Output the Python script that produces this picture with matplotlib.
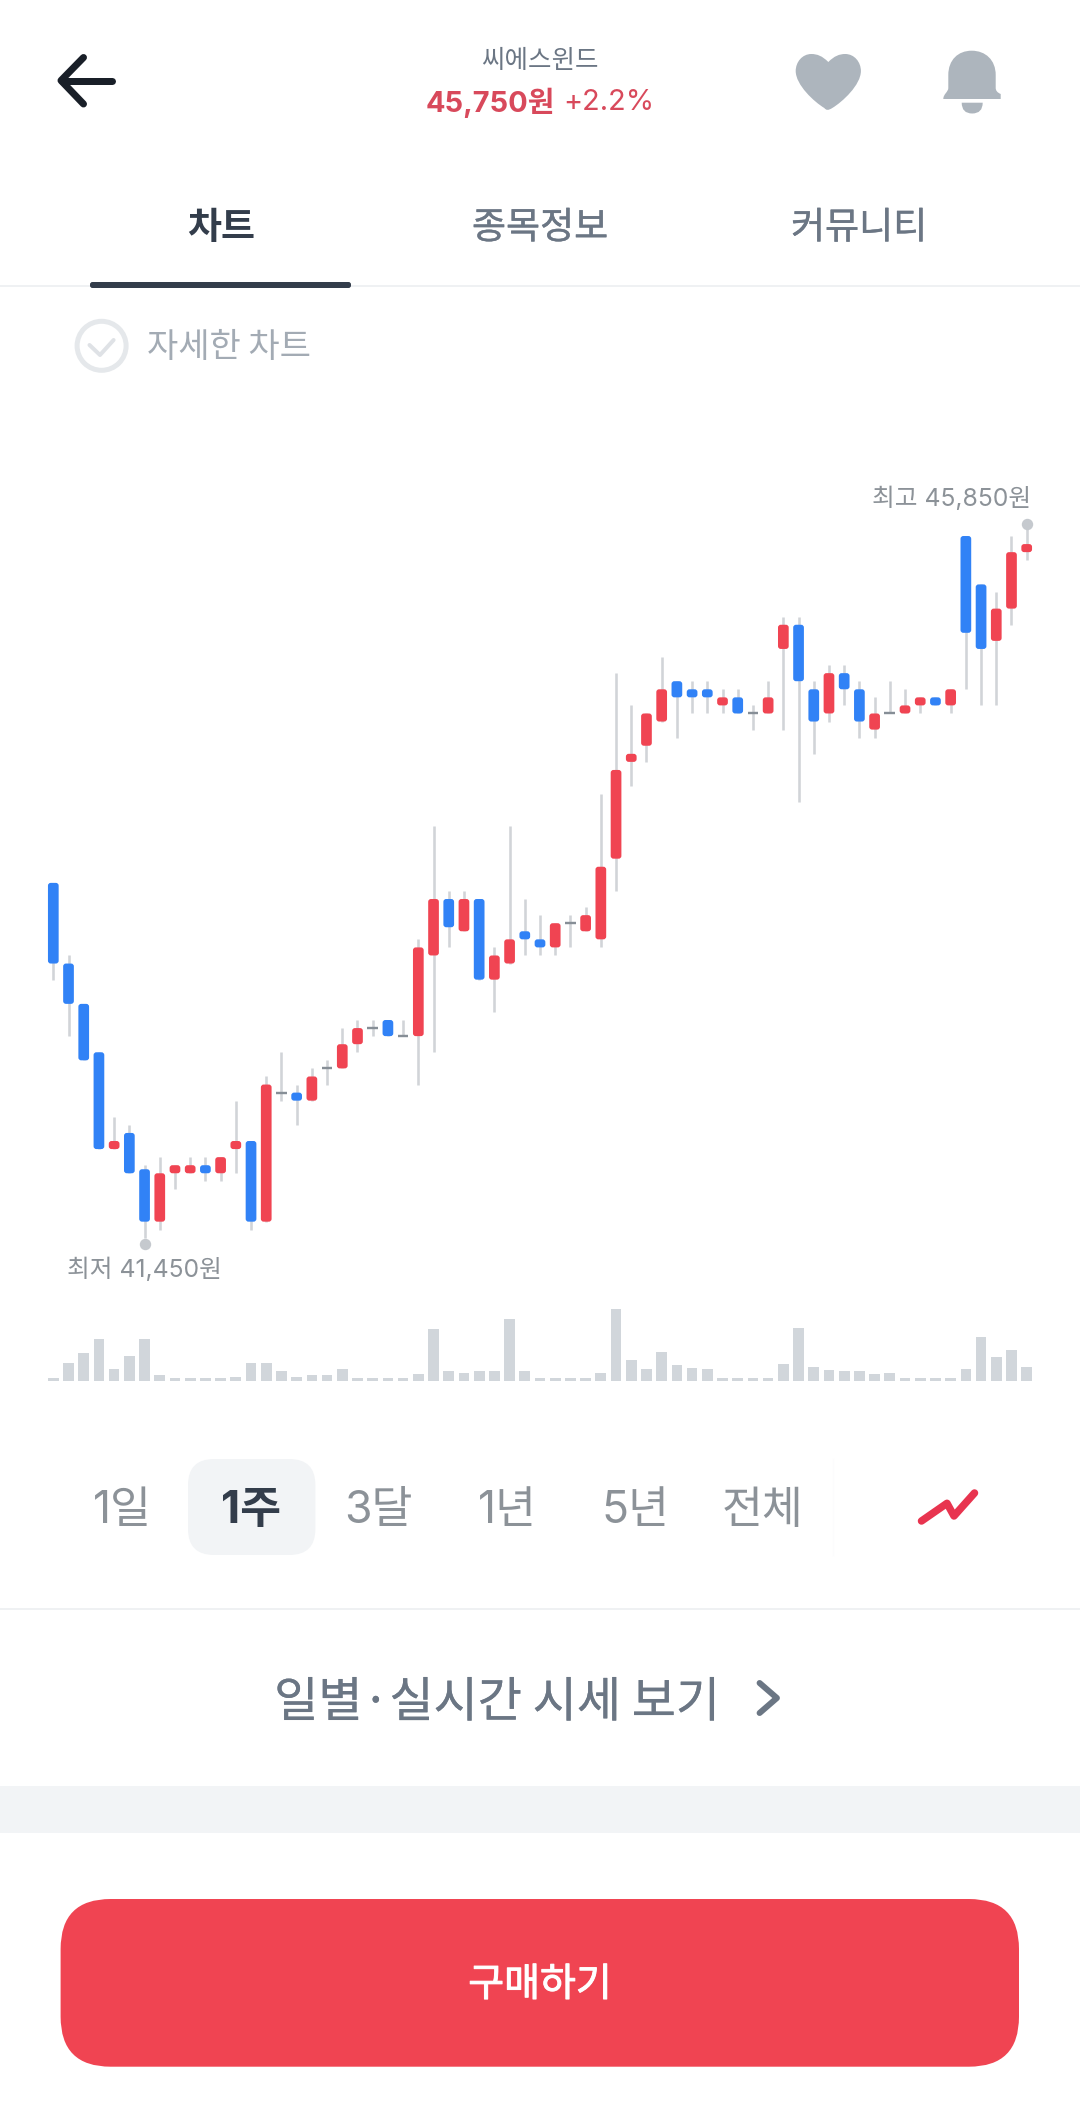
"""plot.py -- stock app screen: one-week candle chart with volume bars, drawn in page pixels."""
import matplotlib; matplotlib.use("Agg"); import matplotlib.pyplot as plt
import matplotlib.patheffects as pe
from matplotlib.patches import FancyBboxPatch, PathPatch, Circle
from matplotlib.path import Path
from matplotlib.transforms import ScaledTranslation

W, H = 1080, 2115
KR = ["Noto Sans CJK KR", "DejaVu Sans"]
LAT = ["Inter", "Noto Sans CJK KR", "DejaVu Sans"]
plt.rcParams["font.family"] = KR

OPEN = [43650, 43150, 42900, 42600, 42000, 42100, 41875, 41550, 41850, 41850, 41900, 41850, 42000,
        42050, 41550, 42350, 42350, 42300, 42500, 42500, 42650, 42750, 42800, 42700, 42700, 43200,
        43550, 43350, 43550, 43050, 43150, 43350, 43300, 43250, 43400, 43350, 43300, 43800, 44400,
        44500, 44650, 44900, 44850, 44850, 44750, 44800, 44700, 44700, 45100, 45250, 44850, 44700,
        44950, 44850, 44600, 44700, 44700, 44750, 44800, 44750, 45800, 45500, 45150, 45350, 45700]
CLOSE = [43150, 42900, 42550, 42000, 42050, 41850, 41550, 41850, 41900, 41900, 41850, 41950, 42050,
         41550, 42400, 42350, 42300, 42450, 42500, 42650, 42750, 42750, 42700, 42700, 43250, 43550,
         43375, 43550, 43050, 43200, 43300, 43300, 43250, 43400, 43400, 43450, 43750, 44350, 44450,
         44700, 44850, 44800, 44800, 44800, 44800, 44700, 44700, 44800, 45250, 44900, 44650, 44950,
         44850, 44650, 44700, 44700, 44750, 44800, 44750, 44850, 45200, 45100, 45350, 45700, 45750]
HIGH = [43650, 43200, 42900, 42600, 42200, 42150, 41900, 41950, 41900, 41950, 41950, 41950, 42300,
        42050, 42450, 42600, 42400, 42500, 42550, 42750, 42800, 42800, 42800, 42800, 43300, 44000,
        43600, 43600, 43550, 43250, 44000, 43550, 43450, 43400, 43450, 43500, 44200, 44950, 44750,
        44700, 45050, 44900, 44900, 44900, 44850, 44850, 44750, 44900, 45300, 45300, 44900, 45000,
        45000, 44900, 44800, 44900, 44850, 44800, 44800, 44850, 45800, 45500, 45450, 45800, 45850]
LOW = [43050, 42700, 42550, 42000, 42000, 41850, 41450, 41500, 41750, 41850, 41800, 41800, 41850,
       41500, 41550, 42300, 42150, 42300, 42400, 42500, 42600, 42700, 42700, 42700, 42400, 42600,
       43250, 43350, 43050, 42850, 43150, 43200, 43200, 43200, 43250, 43350, 43250, 43600, 44250,
       44400, 44650, 44550, 44700, 44700, 44700, 44700, 44600, 44700, 44600, 44150, 44450, 44650,
       44750, 44550, 44550, 44700, 44700, 44700, 44750, 44700, 44850, 44750, 44750, 45250, 45650]
# relative volume
VOLUME = [10, 55, 85, 127, 35, 75, 125, 18, 8, 8, 8, 8, 11, 53, 55, 31, 13, 19, 19, 36, 8, 8, 8, 8, 22,
          155, 31, 24, 31, 31, 185, 29, 8, 8, 8, 8, 25, 215, 62, 35, 88, 48, 40, 35, 8, 8, 8, 8, 52,
          158, 41, 33, 29, 29, 21, 24, 8, 8, 8, 8, 36, 133, 72, 93, 41]
RANGES = ["1일", "1주", "3달", "1년", "5년", "전체"]
RANGE_X = [122.6, 251.4, 378.8, 507.6, 635, 763]
TABS = ["차트", "종목정보", "커뮤니티"]
TAB_X = [221, 540, 859]

RED, BLUE = "#f04452", "#3182f6"
WICK, FLAT, DOT, VOL = "#d1d4d8", "#868e96", "#c5c9ce", "#d1d6db"
DARK, MID, SOFT, LIGHT, LINE = "#333d4b", "#6b7684", "#8c9298", "#f2f4f6", "#eff1f3"

fig = plt.figure(figsize=(W / 100, H / 100), dpi=100, facecolor="white")
page = fig.add_axes([0, 0, 1, 1]); page.set_xlim(0, W); page.set_ylim(H, 0); page.axis("off")

def rect_px(left, top, right, bottom):
    return [left / W, 1 - bottom / H, (right - left) / W, (bottom - top) / H]

def label(x, y, s, px, color, weight="normal", ha="center", family=KR, thick=0):
    t = page.text(x, y, s, fontsize=px * 0.72, color=color, fontweight=weight, ha=ha, va="center", family=family)
    if thick: t.set_path_effects([pe.withStroke(linewidth=thick, foreground=color)])

def box(left, top, right, bottom, r, color):
    page.add_patch(FancyBboxPatch((left, top), right - left, bottom - top, boxstyle=f"round,pad=0,rounding_size={r}",
                                  fc=color, ec="none"))

def stroke(xs, ys, color, px):
    page.plot(xs, ys, color=color, lw=px * 0.72, solid_capstyle="round", solid_joinstyle="round")

# header
stroke([111.5, 62], [80.5, 80.5], "#191f28", 7)
stroke([83.5, 61, 83.5], [57.5, 80.5, 104], "#191f28", 7)
label(540, 61, "씨에스윈드", 25.5, MID)
label(555, 103, "45,750원", 29, "#d8495b", "bold", "right", LAT)
label(563, 103, "+2.2%", 29, "#d8495b", "normal", "left", LAT)

cx = 828.3
left = [(cx, 62), (cx - 6, 56), (cx - 11, 54), (cx - 17, 54), (cx - 26, 54), (795.7, 62), (795.7, 71),
        (795.7, 85), (cx - 14, 102), (cx - 4, 108), (cx - 2, 110.5)]
right = [(2 * cx - x, y) for x, y in left[::-1]]
verts = left + [(cx, 110.5)] + right[1:]
codes = [Path.MOVETO] + [Path.CURVE4] * (len(verts) - 1)
codes = codes[:len(verts)]
while (len(verts) - 1) % 3: verts.append(verts[-1]); codes.append(Path.CURVE4)
page.add_patch(PathPatch(Path(verts, codes), fc="#adb5bd", ec="none"))

bell = [(948.3, 88), (948.3, 75), (948.3, 60), (958, 50.7), (971.7, 50.7), (985.5, 50.7), (995.7, 60), (995.7, 75),
        (995.7, 88), (995.7, 92), (1000.7, 94), (1000.7, 99), (943.3, 99), (943.3, 94), (948.3, 92), (948.3, 88)]
bell_c = [Path.MOVETO, Path.LINETO, Path.CURVE4, Path.CURVE4, Path.CURVE4, Path.CURVE4, Path.CURVE4, Path.CURVE4,
          Path.LINETO, Path.CURVE3, Path.CURVE3, Path.LINETO, Path.LINETO, Path.CURVE3, Path.CURVE3, Path.CURVE3]
bell_c[-3:] = [Path.CURVE4, Path.CURVE4, Path.CURVE4]
page.add_patch(PathPatch(Path(bell, bell_c), fc="#adb5bd", ec="none"))
page.add_patch(PathPatch(Path([(961.7, 102.7), (982.7, 102.7), (982.7, 113.5), (972.2, 113.5), (961.7, 113.5), (961.7, 102.7)],
                              [Path.MOVETO, Path.LINETO, Path.CURVE3, Path.CURVE3, Path.CURVE3, Path.CURVE3]),
                         fc="#adb5bd", ec="none"))

# tabs
for s, x in zip(TABS, TAB_X):
    on = s == TABS[0]
    label(x, 228, s, 37, DARK if on else MID, "bold" if on else "normal", thick=0 if on else 0.3)
page.add_patch(plt.Rectangle((0, 285), W, 2, fc=LINE, ec="none"))
box(90, 282, 351, 288, 2.5, DARK)
page.add_patch(Circle((101.6, 345.8), 24.5, fc="none", ec="#e5e8eb", lw=5 * 0.72))
stroke([89.5, 100, 113.6], [345, 355, 340], "#dfe2e6", 4)
label(147, 347, "자세한 차트", 34, "#a3abb4", ha="left")

# candles: index i sits at 53.3 + 15.2 i, one won is 0.16133 px
X_L, X_R = 45.7, 1034.3
P_LO, P_HI = 41300, 46000
Y_LO, Y_HI = 1262, 503.75
ax = fig.add_axes(rect_px(X_L, Y_HI, X_R, Y_LO)); ax.set_xlim(-0.5, 64.5); ax.set_ylim(P_LO, P_HI); ax.axis("off"); ax.patch.set_alpha(0)
BAR_W = 10.7 / 15.2
aspect = 15.2 / 0.16133
for i, (o, c, hi, lo) in enumerate(zip(OPEN, CLOSE, HIGH, LOW)):
    if hi > lo:
        ax.vlines(i, lo, hi, color=WICK, lw=2.6 * 0.72, zorder=2)
    if o == c:
        ax.hlines(c, i - BAR_W / 2, i + BAR_W / 2, color=FLAT, lw=2.4 * 0.72, zorder=3)
        continue
    ax.add_patch(FancyBboxPatch((i - BAR_W / 2, min(o, c)), BAR_W, abs(c - o), boxstyle=f"round,pad=0,rounding_size={2.8 / 15.2}",
                                mutation_aspect=aspect, fc=RED if c > o else BLUE, ec="none", zorder=4))
i_lo, i_hi = LOW.index(min(LOW)), HIGH.index(max(HIGH))
ax.plot(i_lo, LOW[i_lo], "o", ms=11.4 * 0.72, mec="none", color=DOT, zorder=5,
        transform=ax.transData + ScaledTranslation(0, -6.5 / 100, fig.dpi_scale_trans))
ax.plot(i_hi, HIGH[i_hi], "o", ms=11.4 * 0.72, mec="none", color=DOT, zorder=5,
        transform=ax.transData + ScaledTranslation(0, 4.3 / 100, fig.dpi_scale_trans))
label(1031, 498.5, "최고 45,850원", 24.7, SOFT, ha="right", family=LAT)
label(67, 1270, "최저 41,450원", 24.7, SOFT, ha="left", family=LAT)

# volume
vax = fig.add_axes(rect_px(X_L, 1300, X_R, 1381)); vax.set_xlim(-0.5, 64.5); vax.set_ylim(0, 243); vax.axis("off"); vax.patch.set_alpha(0)
vax.bar(range(len(VOLUME)), VOLUME, width=BAR_W, color=VOL)

# range selector
box(188, 1459, 315.4, 1555, 26, LIGHT)
page.plot([833, 833], [1459, 1555], color="#fcfcfd", lw=1)
for s, x in zip(RANGES, RANGE_X):
    on = s == RANGES[1]
    label(x, 1511, s, 44.5, DARK if on else SOFT, "bold" if on else "normal", family=LAT)
stroke([921.5, 947, 954, 974.5], [1521, 1503.3, 1516, 1493], "#e8344f", 7.5)

page.add_patch(plt.Rectangle((0, 1608), W, 2, fc=LINE, ec="none"))
label(497, 1703, "일별·실시간 시세 보기", 48, MID, thick=0.15)
stroke([759.6, 776.9, 759.6], [1683, 1698, 1713], MID, 6)
page.add_patch(plt.Rectangle((0, 1786), W, 47, fc=LIGHT, ec="none"))
box(60.6, 1899, 1019, 2066.7, 50, RED)
label(540, 1985, "구매하기", 39, "white", thick=0.7)

fig.savefig("out.png", dpi=100, facecolor="white")
